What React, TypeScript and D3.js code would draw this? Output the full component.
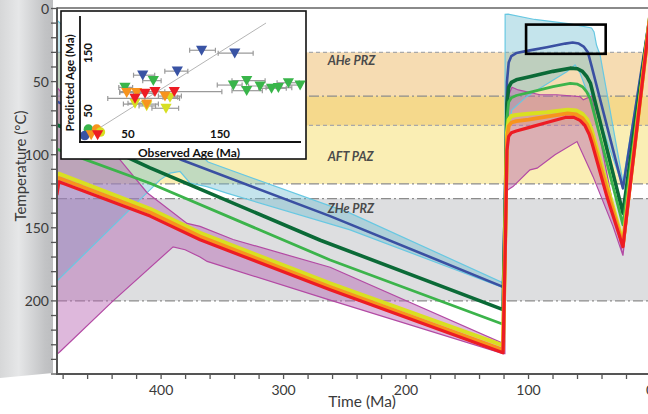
import React from 'react';
import * as d3 from 'd3';

const W = 648;
const H = 414;

// ---------- main chart data ----------
const timeTicks = d3.range(480, -1, -20);
const timeLabels = [400, 300, 200, 100, 0];
const tempTicks = d3.range(0, 251, 10);
const tempLabels = [0, 50, 100, 150, 200];

const zoneNames = ['AHe PRZ', 'AFT PAZ', 'ZHe PRZ'];
const zoneTop = [30, 60, 130];
const zoneBottom = [80, 120, 200];
const zoneFill = ['#f6dcb2', '#faeeb4', '#dddee0'];
const zoneLabelT = [35.5, 101.5, 136.5];
const overlapFill = '#f5d98c';

const isoTemps = [30, 60, 80, 120, 130, 200];
const isoDashed = [true, false, true, false, false, false];

type P = [number, number];

// time (Ma), temperature (°C)
const blueLine: P[] = [
  [484, 64], [383, 103.6], [262, 142], [120.8, 190.4], [118.8, 110], [117.6, 50], [116.2, 37],
  [114, 32.5], [110, 30.5], [100, 28.8], [85, 26.5], [70, 24], [64, 23.3], [59, 24], [55, 26],
  [51.5, 30], [48.4, 39.8], [22.9, 123], [0, 0],
];
const darkGreenLine: P[] = [
  [484, 80], [409, 109], [270, 158.5], [120.8, 206], [118.8, 125], [117.6, 65], [116.2, 54],
  [114, 50.5], [110, 48.8], [100, 46.8], [80, 43], [66, 40.8], [60, 41.2], [56, 43], [52.5, 46.5],
  [49.5, 51], [22.9, 140], [0, 0],
];
const greenLine: P[] = [
  [484, 96.5], [409, 119.5], [262, 172], [120.8, 216], [118.8, 135], [117.6, 75], [116.2, 64],
  [114, 61], [110, 59.5], [100, 57.5], [80, 53.5], [66, 51.2], [60, 51.8], [56, 53.5], [52.5, 57],
  [49.5, 62], [22.9, 148], [0, 0],
];
const yellowLine: P[] = [
  [485, 121], [483.5, 113], [409, 137], [368.2, 153.5], [262, 188], [120.8, 230.5], [118.8, 145],
  [117.6, 85], [116.2, 76], [114, 73.5], [110, 72.8], [100, 72], [85, 71], [68, 69.2], [61, 69.8],
  [56, 72], [52, 76], [48.5, 83], [22.9, 160], [0, 0],
];
const orangeLine: P[] = [
  [485, 124], [483.5, 116], [409, 139.5], [368.2, 156], [262, 190.5], [120.8, 233.5], [118.8, 150],
  [117.6, 90], [116.2, 80.5], [114, 78], [110, 77], [100, 76], [85, 74], [68, 71.8], [61, 72.5],
  [56, 75], [52, 79.5], [48.5, 87], [22.9, 162], [0, 0],
];
const redLine: P[] = [
  [485, 127], [483.5, 118.5], [409, 142], [368.2, 158.2], [262, 192.4], [120.8, 235.5], [118.8, 155],
  [117.6, 97], [116.2, 87.5], [114, 85], [110, 83.8], [100, 81.5], [85, 78], [70, 74.5], [63, 74.5],
  [58, 76.5], [54, 80], [50.5, 86], [48.2, 92], [35.9, 129], [22.9, 163], [0, 0],
];

const cyanUpper: P[] = [
  [485, 8], [361.6, 105], [245.7, 140], [120.8, 187.6], [119.3, 187], [119.1, 4], [116.7, 3.8],
  [95, 7.5], [66, 10.5], [48.5, 13.3], [46.5, 16], [44.5, 25], [41.5, 32], [22.9, 118.6], [0, 0],
];
const cyanLower: P[] = [
  [485, 186.5], [482.4, 184.2], [400.8, 117.2], [392.7, 112.6], [384.5, 111.5], [376.3, 119.5],
  [362.7, 121.8], [346.4, 126.3], [245.7, 151.4], [120.8, 191], [119.2, 191], [116.5, 85],
  [113.7, 69.4], [101.5, 60.3], [90.6, 54.5], [79.8, 48.9], [68.8, 43.2], [62, 38.6], [58, 44],
  [52.2, 57], [47.3, 60], [44.5, 70], [22.9, 122], [0, 0],
];
const magentaUpper: P[] = [
  [485, 54], [433.5, 103.6], [411.4, 126], [378.8, 147], [368.2, 149], [341.2, 158], [262, 177],
  [120.8, 229], [119.5, 150], [116.7, 60.3], [113.5, 53.9], [108.4, 55.7], [90.6, 59], [77, 59],
  [58, 60.3], [55.3, 62.5], [48.4, 59.8], [22.9, 169], [0, 0],
];
const magentaLower: P[] = [
  [485, 236.5], [482.4, 234.6], [439.2, 200], [390.2, 163], [380.4, 165], [368.2, 170], [362.4, 173],
  [262, 199.5], [120.8, 236], [119.3, 236], [118.6, 125], [112.7, 121.8], [98.8, 110.4], [93, 109.2],
  [78.4, 100], [60.4, 91], [47.3, 115], [31, 149], [22.9, 169], [0, 0],
];

// highlighted window (time range, temperature range)
const boxTime = [102, 37];
const boxTemp = [11, 31];

// ---------- inset data ----------
type Pt = { x: number; y: number; lo: number; hi: number };
const insetBlue: Pt[] = [
  { x: 130, y: 153, lo: 117, hi: 145 },
  { x: 166, y: 148, lo: 148, hi: 186 },
  { x: 103.6, y: 117, lo: 90, hi: 115 },
  { x: 66, y: 110, lo: 56, hi: 79 },
];
const insetGreen: Pt[] = [
  { x: 77.5, y: 100.6, lo: 66, hi: 86 },
  { x: 46.7, y: 89, lo: 40, hi: 55 },
  { x: 164.5, y: 93, lo: 147, hi: 174 },
  { x: 179, y: 100.6, lo: 163, hi: 199 },
  { x: 179, y: 83.3, lo: 163, hi: 196 },
  { x: 193.5, y: 91.4, lo: 181, hi: 217 },
  { x: 206, y: 87.4, lo: 192, hi: 222 },
  { x: 213.4, y: 88.5, lo: 200, hi: 228 },
  { x: 224.3, y: 97, lo: 212, hi: 236 },
  { x: 237, y: 93, lo: 226, hi: 238 },
];
const insetYellow: Pt[] = [
  { x: 57.6, y: 61.5, lo: 50, hi: 66 },
  { x: 70.3, y: 57, lo: 62, hi: 80 },
  { x: 91.3, y: 53, lo: 76, hi: 105 },
  { x: 95.6, y: 72, lo: 88, hi: 104 },
];
const insetOrange: Pt[] = [
  { x: 48.6, y: 80, lo: 41, hi: 56 },
  { x: 59.4, y: 80, lo: 50, hi: 68 },
  { x: 70.3, y: 60.3, lo: 45, hi: 83 },
  { x: 90.2, y: 74, lo: 83, hi: 108 },
];
const insetRed: Pt[] = [
  { x: 57.6, y: 70, lo: 28, hi: 106 },
  { x: 68.5, y: 78.7, lo: 60, hi: 78 },
  { x: 79.3, y: 81.6, lo: 70, hi: 90 },
  { x: 100.3, y: 81.6, lo: 41, hi: 152 },
];
// young samples near the origin
const originCircles: { x: number; y: number; c: string }[] = [
  { x: 7, y: 17, c: '#39b54a' },
  { x: 3, y: 6, c: '#3953a4' },
  { x: 16, y: 17, c: '#f7941d' },
  { x: 20, y: 12, c: '#d7df23' },
];
const originTris: { x: number; y: number; c: string }[] = [
  { x: 10, y: 7, c: '#f7941d' },
  { x: 17, y: 7, c: '#ed1c24' },
];
const insetXLabels = [50, 150];
const insetYLabels = [50, 150];

const FONT = "Lato, 'Open Sans', sans-serif";

export default function App() {
  const x = d3.scaleLinear().domain([485, 0]).range([57, 651]);
  const y = d3.scaleLinear().domain([0, 250]).range([8.5, 374]);
  const lin = d3
    .line<P>()
    .x((d) => x(d[0]))
    .y((d) => y(d[1]));
  const poly = (u: P[], l: P[]) => lin([...u, ...l.slice().reverse()]) + 'Z';

  const ix = d3.scaleLinear().domain([0, 238]).range([82, 301]);
  const iy = d3.scaleLinear().domain([0, 200]).range([139, 23]);
  const tri = (px: number, py: number) =>
    `M${px - 5.6},${py - 4.6}L${px + 5.6},${py - 4.6}L${px},${py + 5.4}Z`;

  const plotL = x(485);
  const plotR = W;
  const plotT = y(0);
  const plotB = y(250);

  const ovTop = Math.max(zoneTop[0], zoneTop[1]);
  const ovBot = Math.min(zoneBottom[0], zoneBottom[1]);

  const series: { d: P[]; c: string; w: number }[] = [
    { d: blueLine, c: '#3a50a2', w: 2.6 },
    { d: darkGreenLine, c: '#0b6a37', w: 3.6 },
    { d: greenLine, c: '#3cb44b', w: 2.8 },
    { d: yellowLine, c: '#d9e021', w: 4 },
    { d: orangeLine, c: '#f7941d', w: 3.8 },
    { d: redLine, c: '#ed1c24', w: 3.2 },
  ];

  const insetGroups: { pts: Pt[]; c: string }[] = [
    { pts: insetGreen, c: '#39b54a' },
    { pts: insetBlue, c: '#3953a4' },
    { pts: insetYellow, c: '#d7df23' },
    { pts: insetOrange, c: '#f7941d' },
    { pts: insetRed, c: '#ed1c24' },
  ];

  return (
    <svg
      width={W}
      height={H}
      style={{ position: 'absolute', left: 0, top: 0, background: '#fff', fontFamily: FONT }}
    >
      <defs>
        <linearGradient id="shade" x1="0" x2="1" y1="0" y2="0">
          <stop offset="0" stopColor="#d6d7d8" />
          <stop offset="0.35" stopColor="#e6e7e8" />
          <stop offset="0.85" stopColor="#c2c3c5" />
          <stop offset="1" stopColor="#bcbdbf" />
        </linearGradient>
        <clipPath id="plot">
          <rect x={plotL} y={plotT} width={plotR - plotL} height={plotB - plotT} />
        </clipPath>
      </defs>

      <path d={`M0,0L53,0L53,373L0,378Z`} fill="url(#shade)" />

      <g clipPath="url(#plot)">
        {zoneNames.map((n, i) => (
          <rect
            key={n}
            x={plotL}
            width={plotR - plotL}
            y={y(zoneTop[i])}
            height={y(zoneBottom[i]) - y(zoneTop[i])}
            fill={zoneFill[i]}
          />
        ))}
        <rect x={plotL} width={plotR - plotL} y={y(ovTop)} height={y(ovBot) - y(ovTop)} fill={overlapFill} />
        {isoTemps.map((t, i) => (
          <line
            key={t}
            x1={plotL}
            x2={plotR}
            y1={y(t)}
            y2={y(t)}
            stroke={isoDashed[i] ? '#a9a9a9' : '#8c8c8c'}
            strokeWidth={1.3}
            strokeDasharray={isoDashed[i] ? '4,3' : '10,3,2,3'}
          />
        ))}

        <path d={poly(cyanUpper, cyanLower)} fill="#6bbbd0" fillOpacity={0.4} />
        <path d={poly(magentaUpper, magentaLower)} fill="#b661b1" fillOpacity={0.45} />
        <path d={poly(cyanUpper, cyanLower)} fill="none" stroke="#68c8e2" strokeWidth={1.2} />
        <path d={poly(magentaUpper, magentaLower)} fill="none" stroke="#b34aa4" strokeWidth={1.2} />

        {zoneNames.map((n, i) => (
          <text
            key={n}
            x={x(264)}
            y={y(zoneLabelT[i]) + 4.5}
            fontSize={12.5}
            fontWeight="bold"
            fontStyle="italic"
            fill="#4a4a4a"
          >
            {n}
          </text>
        ))}

        {series.map((s, i) => (
          <path
            key={i}
            d={lin(s.d) || ''}
            fill="none"
            stroke={s.c}
            strokeWidth={s.w}
            strokeLinejoin="round"
            strokeLinecap="round"
          />
        ))}

        <rect
          x={x(boxTime[0])}
          y={y(boxTemp[0])}
          width={x(boxTime[1]) - x(boxTime[0])}
          height={y(boxTemp[1]) - y(boxTemp[0])}
          fill="none"
          stroke="#000"
          strokeWidth={2.6}
        />
      </g>

      <line x1={plotL} x2={W} y1={plotT - 0.5} y2={plotT - 0.5} stroke="#8a8a8a" strokeWidth={2} />

      <line x1={plotL} x2={plotL} y1={plotT - 1} y2={plotB + 1} stroke="#555" strokeWidth={2} />
      {tempTicks.map((t) => (
        <line key={t} x1={plotL - 6} x2={plotL} y1={y(t)} y2={y(t)} stroke="#555" strokeWidth={1.3} />
      ))}
      {tempLabels.map((t) => (
        <text key={t} x={plotL - 8} y={y(t) + 5} fontSize={14} fill="#3a3a3a" textAnchor="end">
          {t}
        </text>
      ))}
      <text
        transform={`translate(26,${166}) rotate(-90)`}
        fontSize={15}
        fill="#3a3a3a"
        textAnchor="middle"
      >
        Temperature (°C)
      </text>

      <line x1={plotL - 1} x2={W} y1={plotB} y2={plotB} stroke="#555" strokeWidth={2} />
      {timeTicks.map((t) => (
        <line key={t} x1={x(t)} x2={x(t)} y1={plotB} y2={plotB + 5} stroke="#555" strokeWidth={1.3} />
      ))}
      {timeLabels.map((t) => (
        <text key={t} x={Math.min(x(t), 650)} y={395} fontSize={14} fill="#3a3a3a" textAnchor="middle">
          {t}
        </text>
      ))}
      <text x={362} y={407} fontSize={15.5} fill="#3a3a3a" textAnchor="middle">
        Time (Ma)
      </text>

      <g>
        <rect x={61} y={11} width={245} height={148} fill="#fff" stroke="#111" strokeWidth={1.6} />
        <line x1={ix(5)} x2={ix(200)} y1={iy(5)} y2={iy(200)} stroke="#b5b5b5" strokeWidth={1} />
        {insetGroups.map((g, gi) =>
          g.pts.map((p, i) => (
            <g key={`e${gi}-${i}`} stroke="#9a9a9a" strokeWidth={1.2}>
              <line x1={ix(p.lo)} x2={ix(p.hi)} y1={iy(p.y)} y2={iy(p.y)} />
              <line x1={ix(p.lo)} x2={ix(p.lo)} y1={iy(p.y) - 2.5} y2={iy(p.y) + 2.5} />
              <line x1={ix(p.hi)} x2={ix(p.hi)} y1={iy(p.y) - 2.5} y2={iy(p.y) + 2.5} />
            </g>
          ))
        )}
        {originCircles.map((c, i) => (
          <circle key={`c${i}`} cx={ix(c.x)} cy={iy(c.y)} r={4.8} fill={c.c} />
        ))}
        {originTris.map((c, i) => (
          <path key={`t${i}`} d={tri(ix(c.x), iy(c.y))} fill={c.c} />
        ))}
        {insetGroups.map((g, gi) =>
          g.pts.map((p, i) => <path key={`p${gi}-${i}`} d={tri(ix(p.x), iy(p.y))} fill={g.c} />)
        )}
        <line x1={80} x2={80} y1={16} y2={143} stroke="#111" strokeWidth={1.8} />
        <line x1={79} x2={301} y1={142} y2={142} stroke="#111" strokeWidth={1.8} />
        {insetXLabels.map((v) => (
          <text key={v} x={ix(v)} y={137.5} fontSize={11.5} fontWeight="bold" fill="#111" textAnchor="middle">
            {v}
          </text>
        ))}
        {insetYLabels.map((v) => (
          <text
            key={v}
            transform={`translate(92,${iy(v) + 1}) rotate(-90)`}
            fontSize={11.5}
            fontWeight="bold"
            fill="#111"
            textAnchor="middle"
          >
            {v}
          </text>
        ))}
        <text x={189} y={157} fontSize={12} fontWeight="bold" fill="#111" textAnchor="middle">
          Observed Age (Ma)
        </text>
        <text
          transform={`translate(74,83) rotate(-90)`}
          fontSize={11.5}
          fontWeight="bold"
          fill="#111"
          textAnchor="middle"
        >
          Predicted Age (Ma)
        </text>
      </g>
    </svg>
  );
}
